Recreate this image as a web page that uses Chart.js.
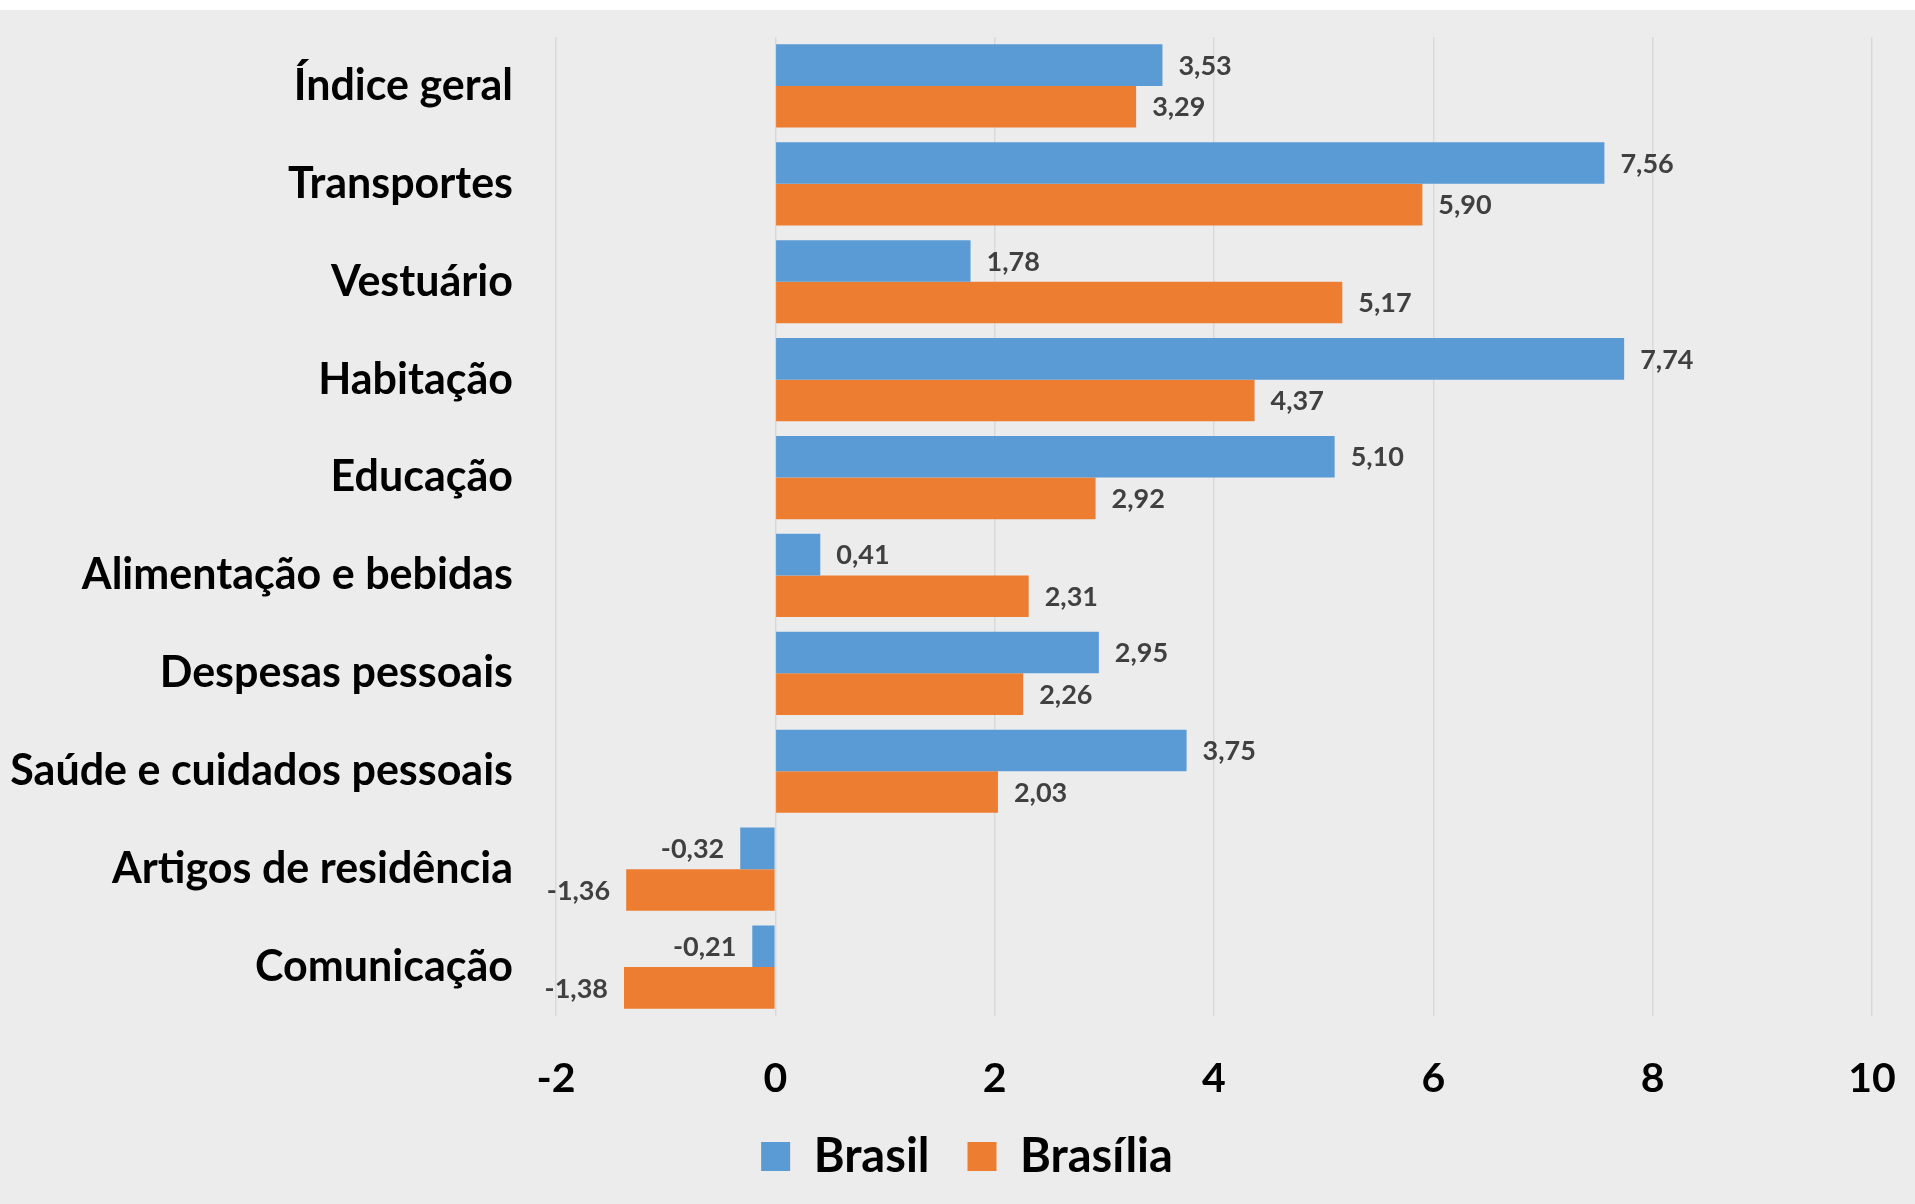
<!DOCTYPE html>
<html>
<head>
<meta charset="utf-8">
<script src="https://cdn.jsdelivr.net/npm/chart.js@4"></script>
<style>
    html, body { margin: 0; padding: 0; background: #ffffff; }
    #wrap { position: absolute; left: 0; top: 10px; width: 1915px; height: 1194px; background: #ececec; }
</style>
</head>
<body>
<div id="wrap"><canvas id="chart" width="1915" height="1194"></canvas></div>
<script>
const categories = [
    'Índice geral',
    'Transportes',
    'Vestuário',
    'Habitação',
    'Educação',
    'Alimentação e bebidas',
    'Despesas pessoais',
    'Saúde e cuidados pessoais',
    'Artigos de residência',
    'Comunicação'
];
const brasil = [3.53, 7.56, 1.78, 7.74, 5.10, 0.41, 2.95, 3.75, -0.32, -0.21];
const brasilia = [3.29, 5.90, 5.17, 4.37, 2.92, 2.31, 2.26, 2.03, -1.36, -1.38];
const xTicks = [-2, 0, 2, 4, 6, 8, 10];

const fontFamily = 'Lato, "Open Sans", sans-serif';

// draws the value next to the end of every bar
const valueLabels = {
    id: 'valueLabels',
    afterDatasetsDraw(chart) {
        const ctx = chart.ctx;
        ctx.save();
        ctx.font = 'bold 27px ' + fontFamily;
        ctx.fillStyle = '#404040';
        ctx.textBaseline = 'middle';
        chart.data.datasets.forEach((ds, i) => {
            const meta = chart.getDatasetMeta(i);
            meta.data.forEach((bar, j) => {
                const v = ds.data[j];
                const txt = v.toFixed(2).replace('.', ',');
                if (v >= 0) {
                    ctx.textAlign = 'left';
                    ctx.fillText(txt, bar.x + 16, bar.y + 1);
                } else {
                    ctx.textAlign = 'right';
                    ctx.fillText(txt, bar.x - 16, bar.y + 1);
                }
            });
        });
        ctx.restore();
    }
};

// nudge the legend a bit to the right, like the original
const legendShift = {
    id: 'legendShift',
    afterLayout(chart) {
        if (chart.legend) {
            chart.legend.left += 31;
            chart.legend.right += 31;
        }
    }
};

const ctx = document.getElementById('chart').getContext('2d');
new Chart(ctx, {
    type: 'bar',
    data: {
        labels: categories,
        datasets: [
            {
                label: 'Brasil',
                data: brasil,
                backgroundColor: '#5b9bd5',
                categoryPercentage: 0.85,
                barPercentage: 1.0
            },
            {
                label: 'Brasília',
                data: brasilia,
                backgroundColor: '#ed7d31',
                categoryPercentage: 0.85,
                barPercentage: 1.0
            }
        ]
    },
    options: {
        indexAxis: 'y',
        responsive: false,
        animation: false,
        layout: {
            padding: { top: 27, right: 43, bottom: 14, left: 0 }
        },
        scales: {
            x: {
                min: -2,
                max: 10,
                afterBuildTicks(scale) {
                    scale.ticks = xTicks.map(v => ({ value: v }));
                },
                afterFit(scale) {
                    scale.height = 79;
                    scale.paddingLeft = 0;
                    scale.paddingRight = 0;
                },
                grid: {
                    color: '#d9d9d9',
                    lineWidth: 1.5,
                    drawTicks: false
                },
                border: { display: false },
                ticks: {
                    color: '#000000',
                    padding: 38,
                    font: { family: fontFamily, size: 41, weight: 'bold' }
                }
            },
            y: {
                afterFit(scale) {
                    scale.width = 556;
                    scale.paddingTop = 0;
                    scale.paddingBottom = 0;
                },
                grid: { display: false },
                border: { display: false },
                ticks: {
                    color: '#000000',
                    padding: 35,
                    font: { family: fontFamily, size: 43, weight: 'bold' }
                }
            }
        },
        plugins: {
            legend: {
                position: 'bottom',
                labels: {
                    boxWidth: 29,
                    boxHeight: 29,
                    padding: 38,
                    color: '#000000',
                    font: { family: fontFamily, size: 47, weight: 'bold' }
                }
            },
            tooltip: { enabled: false }
        }
    },
    plugins: [valueLabels, legendShift]
});
</script>
</body>
</html>
